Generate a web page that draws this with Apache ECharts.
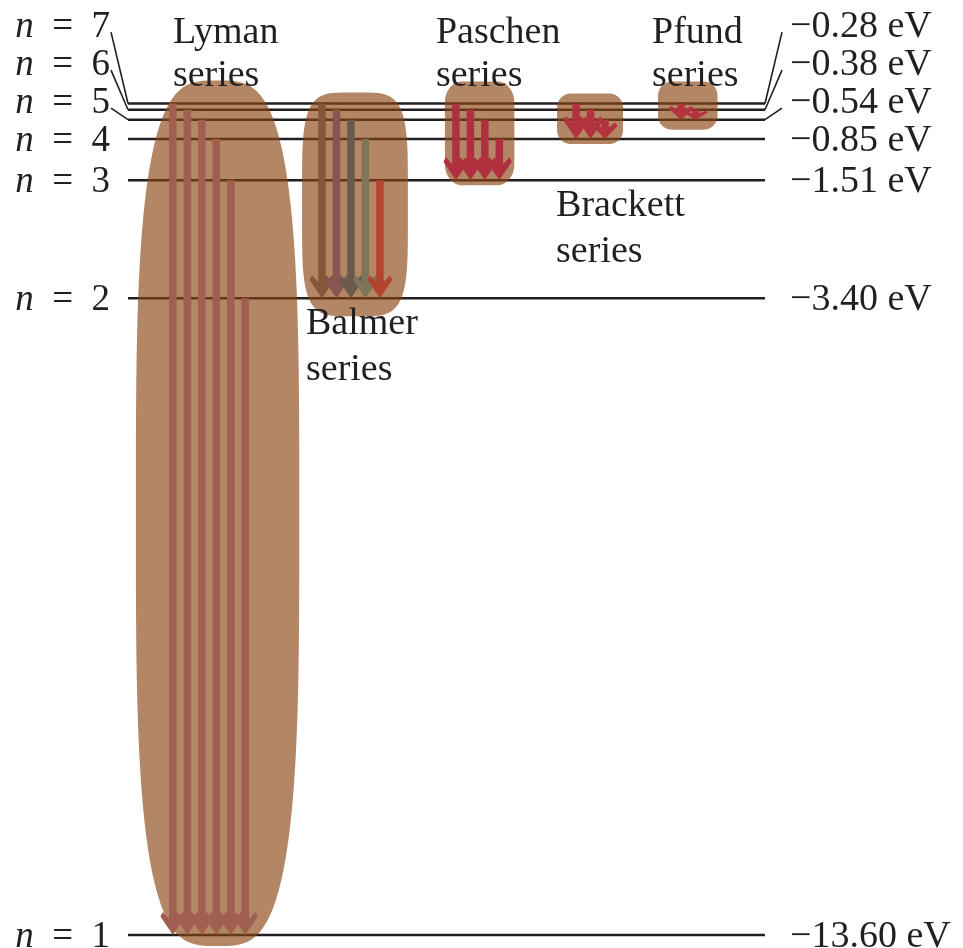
<!DOCTYPE html>
<html>
<head>
<meta charset="utf-8">
<script src="https://cdn.jsdelivr.net/npm/echarts@6/dist/echarts.min.js"></script>
<style>
html,body{margin:0;padding:0;background:#fff;}
#c{width:963px;height:948px;}
</style>
</head>
<body>
<div id="c"></div>
<script>
// ---------------- data ----------------
const levelN = [1, 2, 3, 4, 5, 6, 7];
const levelEnergy = [-13.60, -3.40, -1.51, -0.85, -0.54, -0.38, -0.28];
const energyLabels = ['\u221213.60 eV', '\u22123.40 eV', '\u22121.51 eV', '\u22120.85 eV', '\u22120.54 eV', '\u22120.38 eV', '\u22120.28 eV'];
const seriesNames = ['Lyman', 'Balmer', 'Paschen', 'Brackett', 'Pfund'];
const seriesLowerN = [1, 2, 3, 4, 5];
const seriesUpperN = [[7, 6, 5, 4, 3, 2], [7, 6, 5, 4, 3], [7, 6, 5, 4], [7, 6, 5], [7, 6]];

// ---------------- layout / style ----------------
const FONT = '"Liberation Serif", "Times New Roman", serif';
const TXT = '#231f20';
const BLOB = 'rgba(139,69,19,0.65)';
const X_MAX = 44;
const slotStart = [3.1, 13.4, 22.65, 30.95, 38.2];
const arrowColors = [
  ['#a05f50'],
  ['#85573a', '#8a5450', '#6a5a4e', '#7e7458', '#b4432f'],
  ['#b0303f'], ['#b3323f'], ['#b3333f']
];
const blobCfg = [
  { l: 37, r: 54, t: 23, b: 11, se: 3.4 },
  { l: 20, r: 28, t: 11, b: 18, se: 4.5 },
  { l: 11, r: 15, t: 22, b: 5, rx: 17, ry: 21 },
  { l: 19, r: 18, t: 10, b: 5, rx: 14, ry: 14 },
  { l: 23, r: 22, t: 22, b: 10, rx: 14, ry: 14 }
];
const nameCfg = [
  { anchor: 'top', dx: 0, dy: [-70, -27] },
  { anchor: 'bottom', dx: -16, dy: [26, 72] },
  { anchor: 'top', dx: -20, dy: [-70, -27] },
  { anchor: 'bottom', dx: -20, dy: [67, 113] },
  { anchor: 'top', dx: -29, dy: [-70, -27] }
];
const LABEL_DY = 2, LABEL_STEP = 38;

const E = n => levelEnergy[levelN.indexOf(n)];

function superellipse(x0, y0, x1, y1, n) {
  const cx = (x0 + x1) / 2, cy = (y0 + y1) / 2, a = (x1 - x0) / 2, b = (y1 - y0) / 2;
  const pts = [];
  for (let i = 0; i < 240; i++) {
    const t = i / 240 * 2 * Math.PI, c = Math.cos(t), s = Math.sin(t);
    pts.push([cx + a * Math.sign(c) * Math.pow(Math.abs(c), 2 / n), cy + b * Math.sign(s) * Math.pow(Math.abs(s), 2 / n)]);
  }
  return pts;
}
function roundRect(x0, y0, x1, y1, rx, ry) {
  const pts = [], seg = 14;
  const corners = [[x1 - rx, y0 + ry, -Math.PI / 2, 0], [x1 - rx, y1 - ry, 0, Math.PI / 2],
                   [x0 + rx, y1 - ry, Math.PI / 2, Math.PI], [x0 + rx, y0 + ry, Math.PI, 1.5 * Math.PI]];
  corners.forEach(([cx, cy, a0, a1]) => {
    for (let i = 0; i <= seg; i++) {
      const a = a0 + (a1 - a0) * i / seg;
      pts.push([cx + rx * Math.cos(a), cy + ry * Math.sin(a)]);
    }
  });
  return pts;
}

// ---------------- series data ----------------
const levelData = levelEnergy.map((e, i) => [0, e, i]);
const blobData = seriesNames.map((nm, s) => [slotStart[s], slotStart[s] + seriesUpperN[s].length - 1,
  E(Math.max(...seriesUpperN[s])), E(seriesLowerN[s]), s]);
const arrowData = [];
seriesUpperN.forEach((ups, s) => ups.forEach((n, k) => arrowData.push([slotStart[s] + k, E(n), E(seriesLowerN[s]), s, k])));

function txt(text, x, y, align, size, extra) {
  return {
    type: 'text',
    style: Object.assign({ text: text, x: x, y: y, align: align, verticalAlign: 'middle',
      fontSize: size, fontFamily: FONT, fill: TXT }, extra || {})
  };
}

function renderLevel(params, api) {
  const i = api.value(2), e = api.value(1), n = levelN[i];
  const p0 = api.coord([0, e]), p1 = api.coord([X_MAX, e]);
  const y4 = api.coord([0, E(4)])[1] + LABEL_DY;
  const ly = n <= 4 ? p0[1] + LABEL_DY : y4 - LABEL_STEP * (n - 4);
  const children = [
    { type: 'line', shape: { x1: p0[0], y1: p0[1], x2: p1[0], y2: p1[1] }, style: { stroke: TXT, lineWidth: 2.5 } },
    txt('{i|n}  =  ' + n, p0[0] - 18, ly, 'right', 37,
      { rich: { i: { fontStyle: 'italic', fontSize: 37, fontFamily: FONT, fill: TXT } } }),
    txt(energyLabels[i], p1[0] + 25, ly, 'left', 38)
  ];
  if (n >= 5) {
    children.push({ type: 'line', shape: { x1: p0[0] - 17, y1: ly + 5, x2: p0[0], y2: p0[1] }, style: { stroke: TXT, lineWidth: 1.6 } });
    children.push({ type: 'line', shape: { x1: p1[0], y1: p1[1], x2: p1[0] + 17, y2: ly + 5 }, style: { stroke: TXT, lineWidth: 1.6 } });
  }
  return { type: 'group', children: children };
}

function renderBlob(params, api) {
  const s = api.value(4);
  const xL = api.coord([api.value(0), 0])[0], xR = api.coord([api.value(1), 0])[0];
  const yT = api.coord([0, api.value(2)])[1], yB = api.coord([0, api.value(3)])[1];
  const c = blobCfg[s];
  const x0 = xL - c.l, x1 = xR + c.r, y0 = yT - c.t, y1 = yB + c.b;
  const pts = c.se ? superellipse(x0, y0, x1, y1, c.se) : roundRect(x0, y0, x1, y1, c.rx, c.ry);
  const nc = nameCfg[s];
  const base = nc.anchor === 'top' ? yT : yB;
  return {
    type: 'group',
    children: [
      { type: 'polygon', shape: { points: pts }, style: { fill: BLOB } },
      txt(seriesNames[s], xL + nc.dx, base + nc.dy[0], 'left', 38),
      txt('series', xL + nc.dx, base + nc.dy[1], 'left', 38)
    ]
  };
}

function renderArrow(params, api) {
  const s = api.value(3), k = api.value(4);
  const pTop = api.coord([api.value(0), api.value(1)]);
  const pTip = api.coord([api.value(0), api.value(2)]);
  const x = pTop[0], yT = pTop[1], yTip = pTip[1];
  const len = yTip - yT;
  const h = Math.min(23, Math.max(len * 0.85, 9));
  const hw = 12.5, sw = 3.75;
  const color = arrowColors[s][k] || arrowColors[s][0];
  return {
    type: 'group',
    children: [
      { type: 'rect', shape: { x: x - sw, y: yT, width: sw * 2, height: Math.max(len - h * 0.6, 0) }, style: { fill: color } },
      { type: 'polygon', shape: { points: [[x, yTip], [x - hw, yTip - 0.8 * h], [x - hw + 2.5, yTip - h], [x - sw, yTip - 0.7 * h],
        [x + sw, yTip - 0.7 * h], [x + hw - 2.5, yTip - h], [x + hw, yTip - 0.8 * h]] }, style: { fill: color } }
    ]
  };
}

const chart = echarts.init(document.getElementById('c'), null, { renderer: 'canvas' });
chart.setOption({
  animation: false,
  backgroundColor: '#ffffff',
  grid: { left: 128, right: 198, top: 86, bottom: 13 },
  xAxis: { type: 'value', min: 0, max: X_MAX, show: false },
  yAxis: { type: 'value', min: -13.6, max: 0, show: false },
  series: [
    { type: 'custom', name: 'levels', z: 1, clip: false, renderItem: renderLevel, data: levelData, silent: true },
    { type: 'custom', name: 'blobs', z: 2, clip: false, renderItem: renderBlob, data: blobData, silent: true },
    { type: 'custom', name: 'arrows', z: 3, clip: false, renderItem: renderArrow, data: arrowData, silent: true }
  ]
});
</script>
</body>
</html>
